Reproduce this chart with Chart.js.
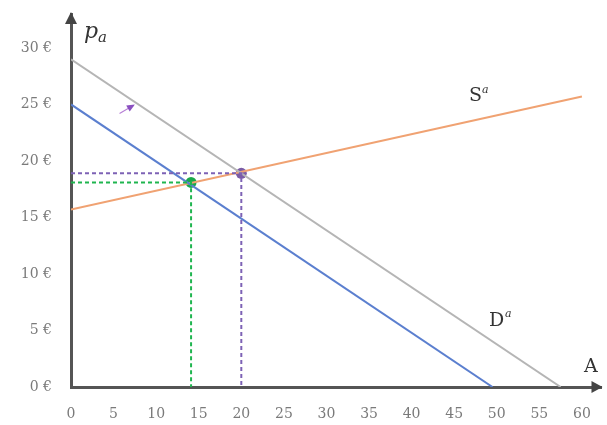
<!DOCTYPE html>
<html>
<head>
<meta charset="utf-8">
<script src="https://cdn.jsdelivr.net/npm/chart.js@4.4.0/dist/chart.umd.min.js"></script>
<style>
  html, body { margin: 0; padding: 0; background: #fff; }
  #wrap { width: 607px; height: 425px; position: relative; }
</style>
</head>
<body>
<div id="wrap"><canvas id="chart"></canvas></div>
<script>
// axis ticks
const xTicks = [0, 5, 10, 15, 20, 25, 30, 35, 40, 45, 50, 55, 60];
const yTicks = [0, 5, 10, 15, 20, 25, 30];

// curves (end points)
const demandNew = [{ x: 0, y: 29 }, { x: 57.5, y: 0 }];   // grey, D^a
const demandOld = [{ x: 0, y: 25 }, { x: 49.5, y: 0 }];   // blue
const supply = [{ x: 0, y: 15.7 }, { x: 60, y: 25.7 }];   // orange, S^a

// equilibria
const eqOld = { x: 14.1, y: 18.1 };
const eqNew = { x: 20, y: 18.9 };

// small shift arrow
const shiftArrow = [{ x: 5.7, y: 24.2 }, { x: 7.3, y: 24.9 }];

const serif = "'DejaVu Serif', 'Liberation Serif', serif";

// dashed guide lines to the axes
function guide(p) {
    return [{ x: 0, y: p.y }, { x: p.x, y: p.y }, { x: p.x, y: 0 }];
}

// draws axis arrows and the text labels
const decor = {
    id: "decor",
    afterDatasetsDraw(chart) {
        const { ctx, scales: { x, y } } = chart;
        const x0 = x.getPixelForValue(0), y0 = y.getPixelForValue(0);
        ctx.save();
        ctx.fillStyle = "#444";
        // y arrow
        ctx.beginPath();
        ctx.moveTo(x0, y.top - 2);
        ctx.lineTo(x0 - 6, y.top + 10);
        ctx.lineTo(x0 + 6, y.top + 10);
        ctx.closePath();
        ctx.fill();
        // x arrow
        ctx.beginPath();
        ctx.moveTo(x.right + 1, y0);
        ctx.lineTo(x.right - 10, y0 - 6);
        ctx.lineTo(x.right - 10, y0 + 6);
        ctx.closePath();
        ctx.fill();

        // shift arrow head
        const a = shiftArrow[0], b = shiftArrow[1];
        const ax = x.getPixelForValue(a.x), ay = y.getPixelForValue(a.y);
        const bx = x.getPixelForValue(b.x), by = y.getPixelForValue(b.y);
        const ang = Math.atan2(by - ay, bx - ax);
        ctx.fillStyle = "#8a4fc0";
        ctx.beginPath();
        ctx.moveTo(bx + 2 * Math.cos(ang), by + 2 * Math.sin(ang));
        ctx.lineTo(bx - 6 * Math.cos(ang) - 3.5 * Math.sin(ang), by - 6 * Math.sin(ang) + 3.5 * Math.cos(ang));
        ctx.lineTo(bx - 6 * Math.cos(ang) + 3.5 * Math.sin(ang), by - 6 * Math.sin(ang) - 3.5 * Math.cos(ang));
        ctx.closePath();
        ctx.fill();

        // labels
        ctx.fillStyle = "#333";
        ctx.textBaseline = "alphabetic";
        ctx.textAlign = "left";
        ctx.font = "italic 22px " + serif;
        ctx.fillText("p", x0 + 13, 38);
        ctx.font = "italic 15px " + serif;
        ctx.fillText("a", x0 + 27, 42);

        ctx.font = "19px " + serif;
        ctx.fillText("S", 469, 101);
        ctx.fillText("D", 489, 326);
        ctx.fillText("A", 584, 372);
        ctx.font = "italic 11px " + serif;
        ctx.fillText("a", 482, 93);
        ctx.fillText("a", 505, 317);
        ctx.restore();
    }
};

new Chart(document.getElementById("chart"), {
    type: "scatter",
    data: {
        datasets: [
            { data: guide(eqNew), showLine: true, borderColor: "#7d62b5", borderWidth: 2, borderDash: [4, 3], pointRadius: 0 },
            { data: guide(eqOld), showLine: true, borderColor: "#1fb54f", borderWidth: 2, borderDash: [4, 3], pointRadius: 0 },
            { data: demandNew, showLine: true, borderColor: "#b5b5b5", borderWidth: 2, pointRadius: 0 },
            { data: demandOld, showLine: true, borderColor: "#5b7fcf", borderWidth: 2, pointRadius: 0 },
            { data: supply, showLine: true, borderColor: "#f0a272", borderWidth: 2, pointRadius: 0 },
            { data: shiftArrow, showLine: true, borderColor: "#b77fd6", borderWidth: 1.2, pointRadius: 0 },
            { data: [eqOld], pointRadius: 5.5, pointBackgroundColor: "#1aa84a", pointBorderWidth: 0 },
            { data: [eqNew], pointRadius: 5.5, pointBackgroundColor: "#7a5ca6", pointBorderWidth: 0 }
        ]
    },
    options: {
        responsive: true,
        maintainAspectRatio: false,
        animation: false,
        layout: { padding: { top: 14, right: 1, left: 0, bottom: 0 } },
        plugins: { legend: { display: false }, tooltip: { enabled: false } },
        scales: {
            x: {
                type: "linear",
                min: 0,
                max: 62.3,
                afterBuildTicks: s => { s.ticks = xTicks.map(v => ({ value: v })); },
                afterFit: s => { s.height = 38; s.paddingLeft = 0; s.paddingRight = 0; },
                grid: { display: false, drawTicks: false },
                border: { color: "#555", width: 3 },
                ticks: { color: "#7a7a7a", font: { family: serif, size: 14 }, padding: 19 }
            },
            y: {
                type: "linear",
                min: 0,
                max: 33,
                afterBuildTicks: s => { s.ticks = yTicks.map(v => ({ value: v })); },
                afterFit: s => { s.width = 71; s.paddingTop = 0; s.paddingBottom = 0; },
                grid: { display: false, drawTicks: false },
                border: { color: "#555", width: 3 },
                ticks: {
                    color: "#7a7a7a",
                    font: { family: serif, size: 14 },
                    padding: 19,
                    callback: v => v + " €"
                }
            }
        }
    },
    plugins: [decor]
});
</script>
</body>
</html>
